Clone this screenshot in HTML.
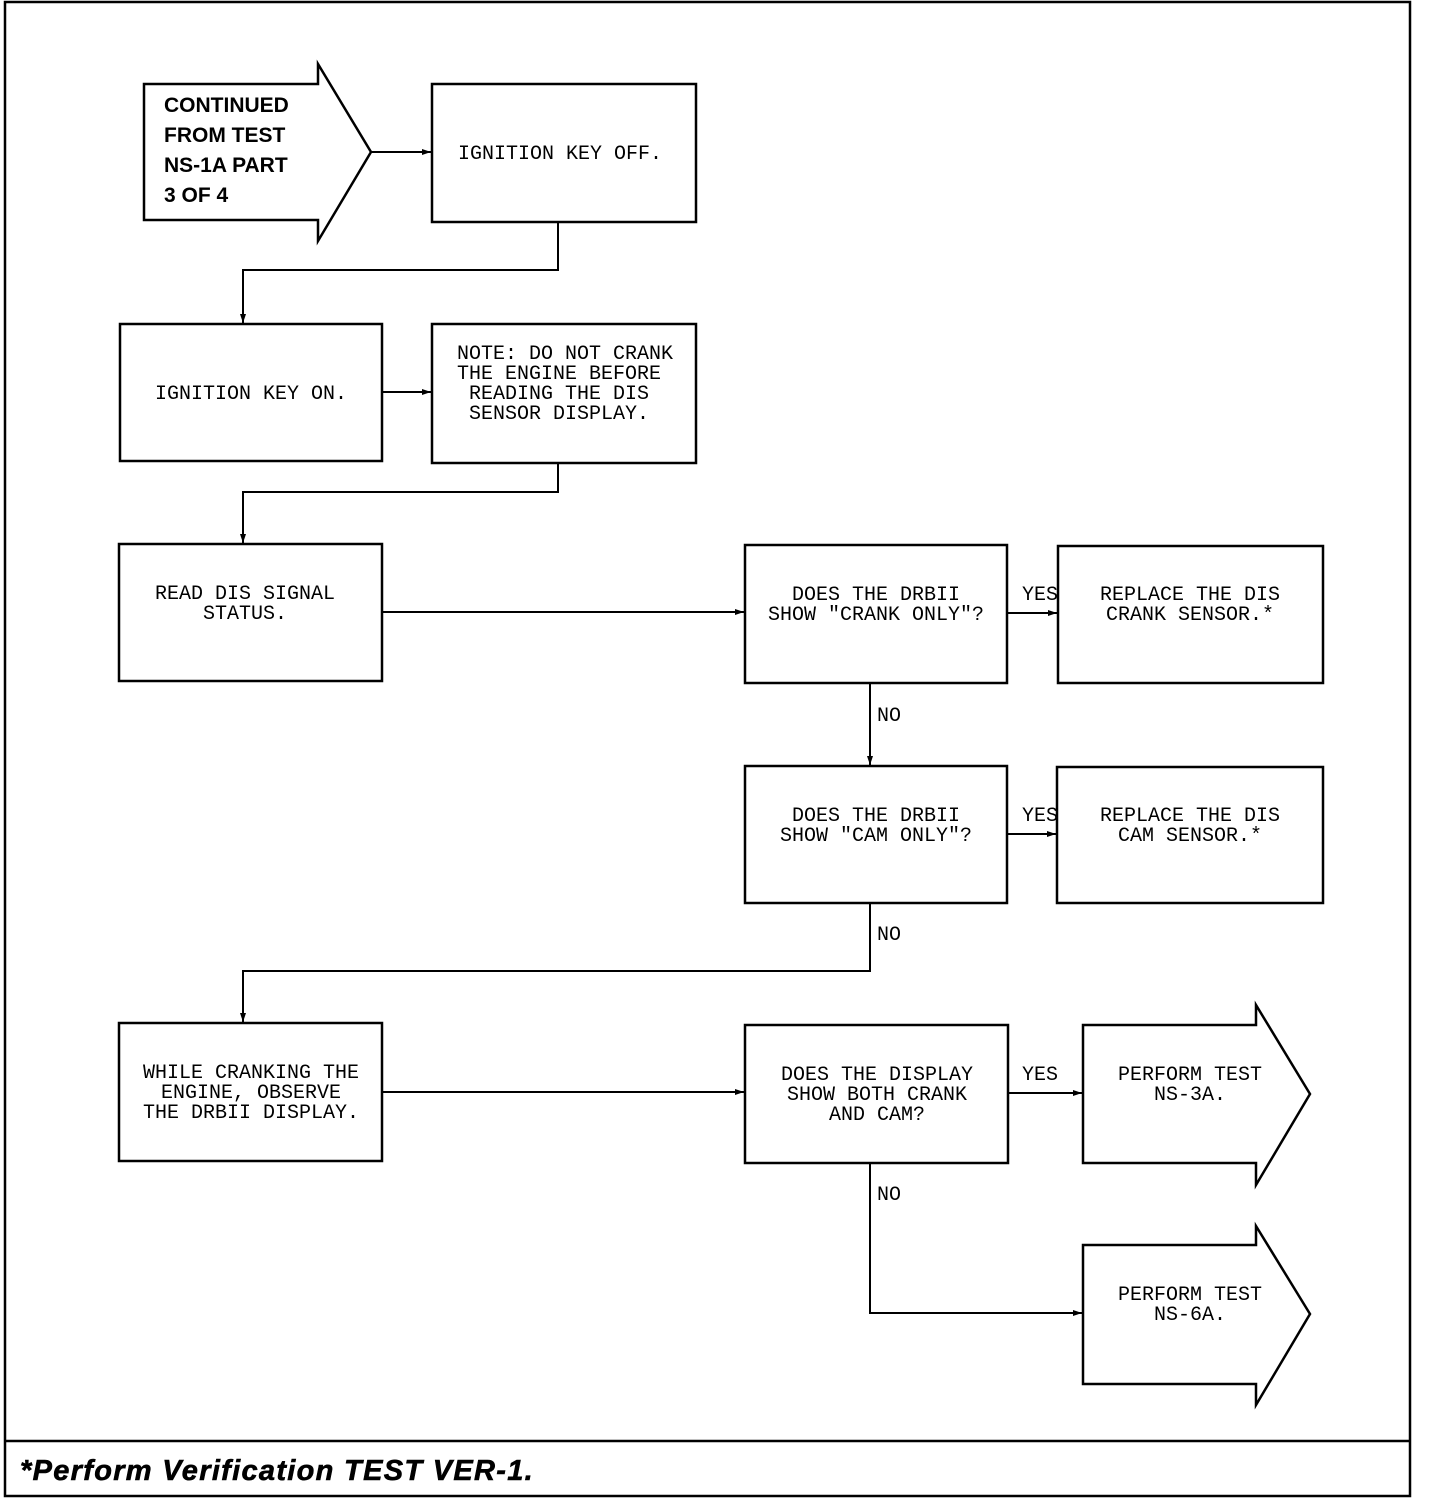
<!DOCTYPE html>
<html><head><meta charset="utf-8"><style>
html,body{margin:0;padding:0;background:#fff;}
svg{display:block;}
text{font-family:"Liberation Mono",monospace;font-size:20px;fill:#000;}
.s{font-family:"Liberation Sans",sans-serif;font-weight:bold;font-size:21px;}
</style></head><body>
<svg width="1440" height="1504" viewBox="0 0 1440 1504" xmlns="http://www.w3.org/2000/svg">
<defs><marker id="a" markerWidth="10" markerHeight="8" refX="9" refY="4" orient="auto" markerUnits="userSpaceOnUse"><path d="M0,1 L9,4 L0,7 Z" fill="#000"/></marker></defs>
<g fill="none" stroke="#000" stroke-width="2.5">
<rect x="5" y="2" width="1405" height="1494"/>
<line x1="5" y1="1441" x2="1410" y2="1441"/>
<path d="M144,84 H318 V64 L371,152 L318,241 V220 H144 Z"/>
<rect x="432" y="84" width="264" height="138"/>
<rect x="120" y="324" width="262" height="137"/>
<rect x="432" y="324" width="264" height="139"/>
<rect x="119" y="544" width="263" height="137"/>
<rect x="745" y="545" width="262" height="138"/>
<rect x="1058" y="546" width="265" height="137"/>
<rect x="745" y="766" width="262" height="137"/>
<rect x="1057" y="767" width="266" height="136"/>
<rect x="119" y="1023" width="263" height="138"/>
<rect x="745" y="1025" width="263" height="138"/>
<path d="M1083,1025 H1256 V1005 L1310,1094 L1256,1185 V1163 H1083 Z"/>
<path d="M1083,1245 H1256 V1226 L1310,1314 L1256,1405 V1384 H1083 Z"/>
</g>
<g fill="none" stroke="#000" stroke-width="2">
<line x1="371" y1="152" x2="431" y2="152" marker-end="url(#a)"/>
<polyline points="558,222 558,270 243,270 243,323" marker-end="url(#a)"/>
<line x1="382" y1="392" x2="431" y2="392" marker-end="url(#a)"/>
<polyline points="558,463 558,492 243,492 243,543" marker-end="url(#a)"/>
<line x1="382" y1="612" x2="744" y2="612" marker-end="url(#a)"/>
<line x1="1007" y1="613" x2="1057" y2="613" marker-end="url(#a)"/>
<line x1="870" y1="683" x2="870" y2="765" marker-end="url(#a)"/>
<line x1="1007" y1="834" x2="1056" y2="834" marker-end="url(#a)"/>
<polyline points="870,903 870,971 243,971 243,1022" marker-end="url(#a)"/>
<line x1="382" y1="1092" x2="744" y2="1092" marker-end="url(#a)"/>
<line x1="1008" y1="1093" x2="1082" y2="1093" marker-end="url(#a)"/>
<polyline points="870,1163 870,1313 1082,1313" marker-end="url(#a)"/>
</g>
<g class="s">
<text class="s" x="164" y="112">CONTINUED</text>
<text class="s" x="164" y="142">FROM TEST</text>
<text class="s" x="164" y="172">NS-1A PART</text>
<text class="s" x="164" y="202">3 OF 4</text>
</g>
<text x="20" y="1480" class="s" style="font-style:italic;font-size:29px;letter-spacing:1.3px;stroke:#000;stroke-width:0.6px;">*Perform Verification TEST VER-1.</text>
<g text-anchor="middle">
<text x="560" y="159">IGNITION KEY OFF.</text>
<text x="251" y="399">IGNITION KEY ON.</text>
<text x="245" y="599">READ DIS SIGNAL</text>
<text x="245" y="619">STATUS.</text>
<text x="876" y="600">DOES THE DRBII</text>
<text x="876" y="620">SHOW "CRANK ONLY"?</text>
<text x="1190" y="600">REPLACE THE DIS</text>
<text x="1190" y="620">CRANK SENSOR.*</text>
<text x="876" y="821">DOES THE DRBII</text>
<text x="876" y="841">SHOW "CAM ONLY"?</text>
<text x="1190" y="821">REPLACE THE DIS</text>
<text x="1190" y="841">CAM SENSOR.*</text>
<text x="251" y="1078">WHILE CRANKING THE</text>
<text x="251" y="1098">ENGINE, OBSERVE</text>
<text x="251" y="1118">THE DRBII DISPLAY.</text>
<text x="877" y="1080">DOES THE DISPLAY</text>
<text x="877" y="1100">SHOW BOTH CRANK</text>
<text x="877" y="1120">AND CAM?</text>
<text x="1190" y="1080">PERFORM TEST</text>
<text x="1190" y="1100">NS-3A.</text>
<text x="1190" y="1300">PERFORM TEST</text>
<text x="1190" y="1320">NS-6A.</text>
</g>
<text x="457" y="359">NOTE: DO NOT CRANK</text>
<text x="457" y="379">THE ENGINE BEFORE</text>
<text x="469" y="399">READING THE DIS</text>
<text x="469" y="419">SENSOR DISPLAY.</text>
<text x="1022" y="600">YES</text>
<text x="1022" y="821">YES</text>
<text x="1022" y="1080">YES</text>
<text x="877" y="721">NO</text>
<text x="877" y="940">NO</text>
<text x="877" y="1200">NO</text>
</svg>
</body></html>
